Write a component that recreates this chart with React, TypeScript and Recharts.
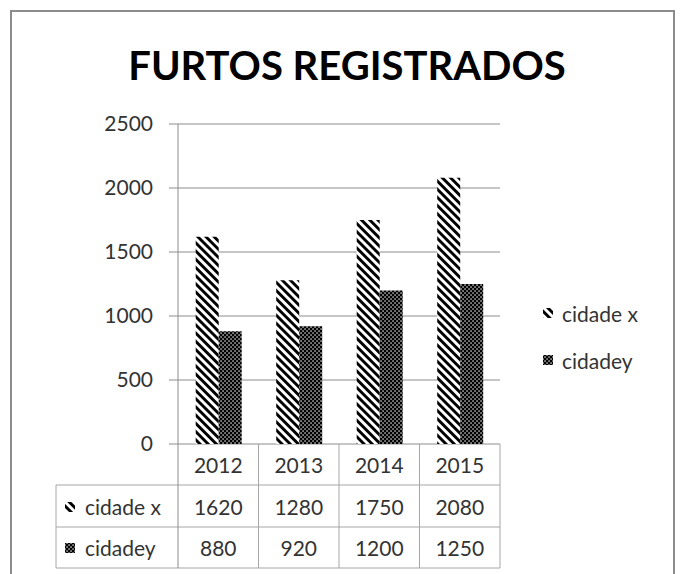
import React from "react";
import { BarChart, Bar, XAxis, YAxis, CartesianGrid } from "recharts";

const years = ["2012", "2013", "2014", "2015"];
const cidadeX = [1620, 1280, 1750, 2080];
const cidadeY = [880, 920, 1200, 1250];
const yTicks = [0, 500, 1000, 1500, 2000, 2500];

const seriesNames = ["cidade x", "cidadey"];

const data = years.map((year, i) => ({ year, x: cidadeX[i], y: cidadeY[i] }));

const W = 681;
const H = 574;
const plotLeft = 178;
const plotRight = 500;
const plotTop = 124;
const plotBottom = 444;
const tableLeft = 56;
const rowLines = [485, 527, 568];

const font = "Lato, 'Open Sans', sans-serif";
const textColor = "#333333";
const gridColor = "#8c8c8c";
const tableColor = "#a6a6a6";

const Patterns = () => (
  <defs>
    <pattern id="hatchX" patternUnits="userSpaceOnUse" width="5.8" height="5.8" patternTransform="rotate(-45)">
      <rect x="0" y="0" width="5.8" height="5.8" fill="#fff" />
      <rect x="0" y="0" width="2.9" height="5.8" fill="#000" />
    </pattern>
    <pattern id="dotsY" patternUnits="userSpaceOnUse" width="4" height="4">
      <rect x="0" y="0" width="4" height="4" fill="#000" />
      <rect x="0.4" y="0.4" width="1.3" height="1.3" fill="#fff" />
      <rect x="2.4" y="2.4" width="1.3" height="1.3" fill="#fff" />
    </pattern>
  </defs>
);

const fills = ["url(#hatchX)", "url(#dotsY)"];

const Icon = ({ x, y, idx }: { x: number; y: number; idx: number }) => (
  <rect x={x} y={y} width={10} height={10} fill={fills[idx]} />
);

export default function App() {
  const band = (plotRight - plotLeft) / years.length;
  const colX = [plotLeft, ...years.map((_, i) => plotLeft + band * (i + 1))];

  return (
    <div style={{ position: "absolute", left: 0, top: 0, width: W, height: H, overflow: "hidden", background: "#fff" }}>
      <svg width={0} height={0} style={{ position: "absolute" }}>
        <Patterns />
      </svg>
      <div style={{ position: "absolute", left: 0, top: 0 }}>
        <BarChart
          width={W}
          height={H}
          data={data}
          margin={{ top: plotTop, right: W - plotRight, bottom: H - plotBottom, left: plotLeft - 60 }}
          barCategoryGap="22%"
          barGap={0}
        >
          <CartesianGrid vertical={false} stroke={gridColor} />
          <XAxis dataKey="year" hide />
          <YAxis
            width={60}
            domain={[0, 2500]}
            ticks={yTicks}
            interval={0}
            tickSize={9}
            tickMargin={16}
            axisLine={{ stroke: gridColor }}
            tickLine={{ stroke: gridColor }}
            tick={{ fill: textColor, fontSize: 21, fontFamily: font }}
          />
          <Bar dataKey="x" name={seriesNames[0]} fill={fills[0]} isAnimationActive={false} />
          <Bar dataKey="y" name={seriesNames[1]} fill={fills[1]} isAnimationActive={false} />
        </BarChart>
      </div>
      <svg width={W} height={H} style={{ position: "absolute", left: 0, top: 0, pointerEvents: "none" }}>
        <rect x={11} y={11} width={663} height={620} fill="none" stroke={gridColor} strokeWidth={2} />
        <text x={347} y={80} textAnchor="middle" fontFamily={font} fontWeight={700} fontSize={40} fill="#000">
          FURTOS REGISTRADOS
        </text>

        {/* legend */}
        {seriesNames.map((name, i) => (
          <g key={name}>
            <Icon x={543} y={308 + i * 47} idx={i} />
            <text x={562} y={322 + i * 47} fontFamily={font} fontSize={21} fill={textColor}>
              {name}
            </text>
          </g>
        ))}

        {/* data table */}
        {rowLines.map((y) => (
          <line key={y} x1={tableLeft} x2={plotRight} y1={y} y2={y} stroke={tableColor} />
        ))}
        <line x1={tableLeft} x2={tableLeft} y1={rowLines[0]} y2={rowLines[2]} stroke={tableColor} />
        {colX.map((x, i) => (
          <line key={i} x1={x} x2={x} y1={plotBottom} y2={rowLines[2]} stroke={i === 0 ? gridColor : tableColor} />
        ))}
        {years.map((yr, i) => (
          <text key={yr} x={plotLeft + band * (i + 0.5)} y={473} textAnchor="middle" fontFamily={font} fontSize={21} fill={textColor}>
            {yr}
          </text>
        ))}
        {[cidadeX, cidadeY].map((vals, r) => (
          <g key={r}>
            <Icon x={65} y={502 + r * 41} idx={r} />
            <text x={85} y={515 + r * 41} fontFamily={font} fontSize={21} fill={textColor}>
              {seriesNames[r]}
            </text>
            {vals.map((v, i) => (
              <text key={i} x={plotLeft + band * (i + 0.5)} y={515 + r * 41} textAnchor="middle" fontFamily={font} fontSize={21} fill={textColor}>
                {v}
              </text>
            ))}
          </g>
        ))}
      </svg>
    </div>
  );
}
